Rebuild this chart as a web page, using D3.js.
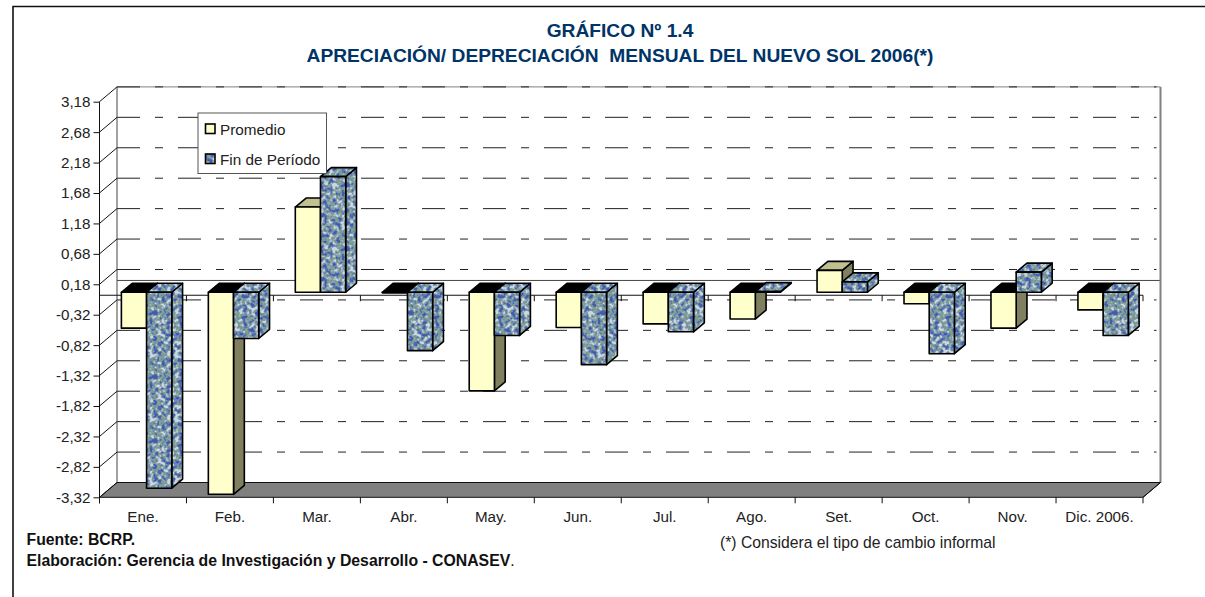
<!DOCTYPE html>
<html><head><meta charset="utf-8">
<script src="https://cdnjs.cloudflare.com/ajax/libs/d3/7.8.5/d3.min.js"></script>
<style>
html,body{margin:0;padding:0;background:#fff}
svg{display:block}
text{font-family:"Liberation Sans",Arial,sans-serif;fill:#222}
</style></head><body><svg id="c" width="1205" height="597"></svg>
<script>
const categories=["Ene.","Feb.","Mar.","Abr.","May.","Jun.","Jul.","Ago.","Set.","Oct.","Nov.","Dic. 2006."];
const promedio=[-0.59,-3.32,1.40,-0.01,-1.62,-0.58,-0.52,-0.44,0.36,-0.19,-0.59,-0.29];
const finPeriodo=[-3.22,-0.76,1.90,-0.96,-0.71,-1.19,-0.65,0.01,0.17,-1.01,0.33,-0.71];
const yTicks=[3.18,2.68,2.18,1.68,1.18,0.68,0.18,-0.32,-0.82,-1.32,-1.82,-2.32,-2.82,-3.32];
const seriesNames=["Promedio","Fin de Período"];
const titleLines=["GRÁFICO Nº 1.4","APRECIACIÓN/ DEPRECIACIÓN  MENSUAL DEL NUEVO SOL 2006(*)"];

const svg=d3.select("#c");
const DX=17.5,DY=-14.8;
const y=d3.scaleLinear().domain([3.18,-3.32]).range([101.7,497.3]);
const x=d3.scaleBand().domain(categories).range([99.5,1143]);
const inner=d3.scaleBand().domain([0,1]).range([0,x.bandwidth()]).paddingOuter(0.726).paddingInner(0);
const fmt=v=>d3.format(".2f")(v).replace(".",",").replace("−","-");
const poly=p=>p.map(q=>q.join(",")).join(" ");

// texture
const defs=svg.append("defs");
const f=defs.append("filter").attr("id","tf").attr("x",0).attr("y",0).attr("width","100%").attr("height","100%")
  .attr("color-interpolation-filters","sRGB");
f.append("feTurbulence").attr("type","fractalNoise").attr("baseFrequency",0.24).attr("numOctaves",2).attr("seed",7).attr("stitchTiles","stitch");
f.append("feColorMatrix").attr("type","matrix").attr("values","3 0 0 0 -1  3 0 0 0 -1  3 0 0 0 -1  0 0 0 0 1");
const ct=f.append("feComponentTransfer");
ct.append("feFuncR").attr("type","table").attr("tableValues","0.26 0.36 0.48 0.50 0.62 0.80");
ct.append("feFuncG").attr("type","table").attr("tableValues","0.36 0.46 0.60 0.62 0.70 0.84");
ct.append("feFuncB").attr("type","table").attr("tableValues","0.70 0.74 0.60 0.56 0.78 0.90");
f.append("feGaussianBlur").attr("stdDeviation",0.5);
const pat=defs.append("pattern").attr("id","tex").attr("patternUnits","userSpaceOnUse").attr("width",64).attr("height",64);
pat.append("rect").attr("width",64).attr("height",64).attr("filter","url(#tf)");

// outer frame
svg.append("path").attr("d","M13,597V6.5H1205").attr("fill","none").attr("stroke","#111").attr("stroke-width",1.6);

// walls
const bx=v=>v+DX, by=v=>v+DY;
const L=x.range()[0],R=x.range()[1];
svg.append("line").attr("x1",bx(L)).attr("x2",bx(R)).attr("y1",by(y(3.18))).attr("y2",by(y(3.18))).attr("stroke","#999").attr("stroke-width",1.4);
const gridVals=yTicks.slice(0,-1);
svg.append("g").selectAll("line").data(gridVals).join("line")
  .attr("x1",bx(L)).attr("x2",R+DX-4).attr("y1",d=>by(y(d))).attr("y2",d=>by(y(d)))
  .attr("stroke","#222").attr("stroke-width",1).attr("stroke-dasharray","23 15 8 15");
svg.append("line").attr("x1",bx(L)).attr("x2",bx(R)).attr("y1",by(y(0))).attr("y2",by(y(0))).attr("stroke","#444").attr("stroke-width",1);
svg.append("line").attr("x1",bx(L)).attr("x2",bx(L)).attr("y1",by(y(3.18))).attr("y2",by(y(-3.32))).attr("stroke","#444").attr("stroke-width",1);
svg.append("line").attr("x1",bx(R)).attr("x2",bx(R)).attr("y1",by(y(3.18))).attr("y2",by(y(-3.32))).attr("stroke","#808080").attr("stroke-width",2);
// floor
const yb=y(-3.32);
svg.append("polygon").attr("points",poly([[L,yb],[R,yb],[R+DX,yb+DY],[L+DX,yb+DY]])).attr("fill","#808080").attr("stroke","#111").attr("stroke-width",1);

// y-axis depth connectors
svg.append("g").selectAll("line").data(yTicks).join("line")
  .attr("x1",L).attr("x2",bx(L)).attr("y1",d=>y(d)).attr("y2",d=>by(y(d))).attr("stroke","#111").attr("stroke-width",1);

// front zero axis with category boundary ticks
const bounds=categories.map(c=>x(c)).concat([R]);
svg.append("line").attr("x1",L).attr("x2",R).attr("y1",y(0)).attr("y2",y(0)).attr("stroke","#111").attr("stroke-width",1);
svg.append("g").selectAll("line").data(bounds).join("line")
  .attr("x1",d=>d).attr("x2",d=>d).attr("y1",y(0)).attr("y2",y(0)+6).attr("stroke","#111").attr("stroke-width",1);

// bars
const d0X=3.6,d0Y=-3,bdX=10.8,bdY=-9;
const COL={front:"#FFFFCC",side:"#808060",topPos:"#C0C090",topNeg:"#000"};
const gBars=svg.append("g").attr("stroke","#000").attr("stroke-width",1.6).attr("stroke-linejoin","round");
function bar(cat,idx,v){
  const x0=x(cat)+inner(idx)+d0X, w=inner.bandwidth();
  const a=y(Math.max(v,0))+d0Y, b=y(Math.min(v,0))+d0Y;
  const tex=idx===1;
  gBars.append("polygon").attr("points",poly([[x0+w,a],[x0+w+bdX,a+bdY],[x0+w+bdX,b+bdY],[x0+w,b]])).attr("fill",tex?"url(#tex)":COL.side);
  gBars.append("polygon").attr("points",poly([[x0,a],[x0+bdX,a+bdY],[x0+w+bdX,a+bdY],[x0+w,a]])).attr("fill",tex?"url(#tex)":(v>0?COL.topPos:COL.topNeg));
  gBars.append("rect").attr("x",x0).attr("y",a).attr("width",w).attr("height",b-a).attr("fill",tex?"url(#tex)":COL.front);
}
categories.forEach((c,i)=>{bar(c,0,promedio[i]);bar(c,1,finPeriodo[i]);});

// left axis
const yAxis=d3.axisLeft(y).tickValues(yTicks).tickFormat(fmt).tickSize(6).tickPadding(3);
const ga=svg.append("g").attr("transform",`translate(${L},0)`).call(yAxis);
ga.select(".domain").attr("stroke","#111").attr("d",`M0,${y(3.18)}V${yb+6}`);
ga.selectAll("line").attr("stroke","#111");
ga.selectAll("text").attr("font-size",15.2).attr("fill","#222").attr("font-family",null);

// bottom axis
const xAxis=d3.axisBottom(x).tickSize(0).tickPadding(13.5);
const gb=svg.append("g").attr("transform",`translate(0,${yb})`).call(xAxis);
gb.select(".domain").remove();
gb.selectAll("text").attr("font-size",15.2).attr("fill","#222").attr("font-family",null);
svg.append("g").selectAll("line").data(bounds).join("line")
  .attr("x1",d=>d).attr("x2",d=>d).attr("y1",yb).attr("y2",yb+6).attr("stroke","#111").attr("stroke-width",1);
svg.append("line").attr("x1",R).attr("x2",R+DX).attr("y1",yb).attr("y2",yb+DY).attr("stroke","#111");

// legend
const lg=svg.append("g");
lg.append("rect").attr("x",198).attr("y",113).attr("width",128.5).attr("height",60.5).attr("fill","#fff").attr("stroke","#555").attr("stroke-width",1);
seriesNames.forEach((n,i)=>{
  const yy=124+i*30;
  lg.append("rect").attr("x",205.5).attr("y",yy).attr("width",9.5).attr("height",9.5).attr("fill",i?"url(#tex)":COL.front).attr("stroke","#000").attr("stroke-width",1.6);
  lg.append("text").attr("x",220).attr("y",yy+11).attr("font-size",15.3).text(n);
});

// titles
titleLines.forEach((t,i)=>svg.append("text").attr("x",620).attr("y",36.7+i*25).attr("text-anchor","middle")
  .attr("font-size",19.2).attr("font-weight","bold").style("fill","#003366").style("white-space","pre").text(t));

// notes
svg.append("text").attr("x",26.5).attr("y",545).attr("font-size",15.8).attr("font-weight","bold").style("fill","#111").text("Fuente: BCRP.");
const el=svg.append("text").attr("x",26.5).attr("y",565.5).attr("font-size",15.8).style("fill","#111");
el.append("tspan").attr("font-weight","bold").text("Elaboración: Gerencia de Investigación y Desarrollo - CONASEV");
el.append("tspan").text(".");
svg.append("text").attr("x",720).attr("y",548).attr("font-size",15.7).text("(*) Considera el tipo de cambio informal");
</script></body></html>
